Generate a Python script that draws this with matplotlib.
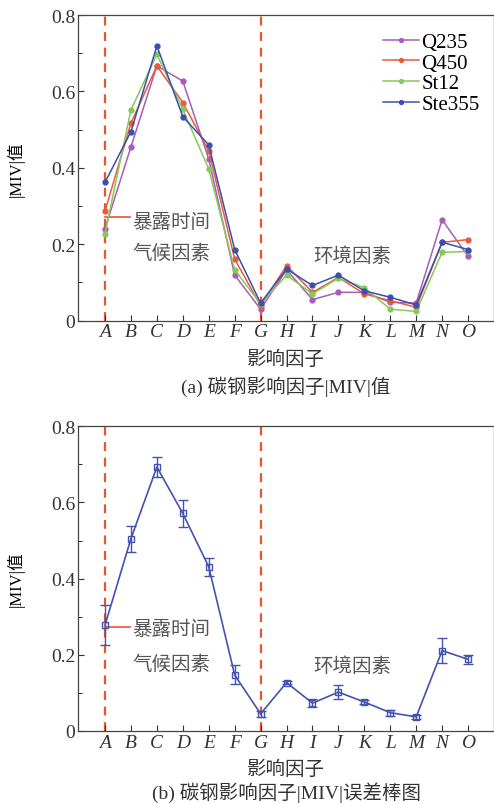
import numpy as np
import matplotlib
matplotlib.use("Agg")
import matplotlib.pyplot as plt

# ---- data ----
factors = list("ABCDEFGHIJKLMNO")
q235 = [0.241, 0.455, 0.667, 0.627, 0.423, 0.119, 0.030, 0.133, 0.055, 0.074, 0.074, 0.048, 0.046, 0.264, 0.168]
q450 = [0.287, 0.517, 0.667, 0.571, 0.444, 0.161, 0.039, 0.144, 0.074, 0.113, 0.070, 0.052, 0.035, 0.205, 0.212]
st12 = [0.228, 0.552, 0.697, 0.553, 0.397, 0.133, 0.044, 0.119, 0.070, 0.111, 0.086, 0.030, 0.024, 0.179, 0.181]
ste355 = [0.362, 0.495, 0.719, 0.534, 0.460, 0.186, 0.046, 0.135, 0.092, 0.119, 0.078, 0.061, 0.041, 0.205, 0.186]
mean_miv = [0.278, 0.505, 0.693, 0.571, 0.431, 0.147, 0.045, 0.127, 0.073, 0.102, 0.076, 0.048, 0.037, 0.211, 0.188]
err_miv = [0.052, 0.034, 0.027, 0.035, 0.023, 0.025, 0.008, 0.005, 0.010, 0.018, 0.005, 0.008, 0.006, 0.033, 0.012]

series = [("Q235", q235, "#a85cb8"),
          ("Q450", q450, "#e85a3c"),
          ("St12", st12, "#86c95a"),
          ("Ste355", ste355, "#3a4fb0")]

serif = ["Liberation Serif", "Noto Sans CJK SC"]
cjk = ["Noto Sans CJK SC", "Liberation Serif"]
dash_col = "#e8552e"
txt_col = "#555555"

x = np.arange(len(factors))

fig = plt.figure(figsize=(4.94, 8.04), dpi=100)
ax1 = fig.add_axes([0.158, 0.600, 0.842, 0.380])
ax2 = fig.add_axes([0.158, 0.0896, 0.842, 0.379])


def style_axis(ax, yline, ytxt1, ytxt2, yenv):
    ax.set_xlim(-1.04, 15.0)
    ax.set_ylim(0, 0.8)
    ax.set_xticks(x)
    ax.set_xticklabels(factors, fontstyle="italic", family=serif, fontsize=14)
    ax.set_yticks([0, 0.2, 0.4, 0.6, 0.8])
    ax.set_yticklabels(["0", "0.2", "0.4", "0.6", "0.8"], family=serif, fontsize=14)
    ax.set_yticks(np.arange(0.1, 0.8, 0.2), minor=True)
    ax.tick_params(direction="in", length=4, width=0.8, colors="#333333", pad=2)
    ax.tick_params(which="minor", direction="in", length=3)
    for s in ax.spines.values():
        s.set_color("#444444")
        s.set_linewidth(0.9)
    # group separators
    ax.axvline(0, color=dash_col, ls=(0, (4, 3)), lw=1.6, zorder=1)
    ax.axvline(6, color=dash_col, ls=(0, (4, 3)), lw=1.6, zorder=1)
    # annotation
    ax.plot([0, 0.95], [yline, yline], color=dash_col, lw=1.2, zorder=1)
    ax.text(1.05, ytxt1, "暴露时间", family=cjk, fontsize=14, color=txt_col, va="center")
    ax.text(1.05, ytxt2, "气候因素", family=cjk, fontsize=14, color=txt_col, va="center")
    ax.text(9.53, yenv, "环境因素", family=cjk, fontsize=14, color=txt_col, va="center", ha="center")
    ax.set_ylabel("|MIV|值", family=serif, fontsize=12, va="center")
    ax.yaxis.set_label_coords(-0.151, 0.5)
    ax.set_xlabel("影响因子", family=cjk, fontsize=14, color="#333333", va="center")
    ax.xaxis.set_label_coords(0.5, -0.124)


# (a) all four steels
style_axis(ax1, 0.27, 0.26, 0.179, 0.171)
for name, vals, col in series:
    ax1.plot(x, vals, color=col, lw=1.1, marker="o", ms=3.5, label=name, zorder=3)
leg = ax1.legend(loc="upper left", bbox_to_anchor=(0.713, 0.97), frameon=False,
                 prop={"family": serif, "size": 15}, handlelength=1.75,
                 handletextpad=0.1, labelspacing=0.05, borderaxespad=0.0,
                 markerscale=0.8)
ax1.text(0.5, -0.215, "(a) 碳钢影响因子|MIV|值", transform=ax1.transAxes,
         ha="center", va="center", family=serif, fontsize=14, color="#333333")

# (b) mean with error bars
style_axis(ax2, 0.273, 0.268, 0.176, 0.171)
ax2.errorbar(x, mean_miv, yerr=err_miv, color="#4452b0", lw=1.2, marker="s", ms=5,
             mfc="none", mec="#4452b0", mew=1.0, capsize=3.5, elinewidth=1.0, zorder=3)
ax2.text(0.5, -0.2, "(b) 碳钢影响因子|MIV|误差棒图", transform=ax2.transAxes,
         ha="center", va="center", family=serif, fontsize=14, color="#333333")

fig.savefig("out.png", dpi=100)
